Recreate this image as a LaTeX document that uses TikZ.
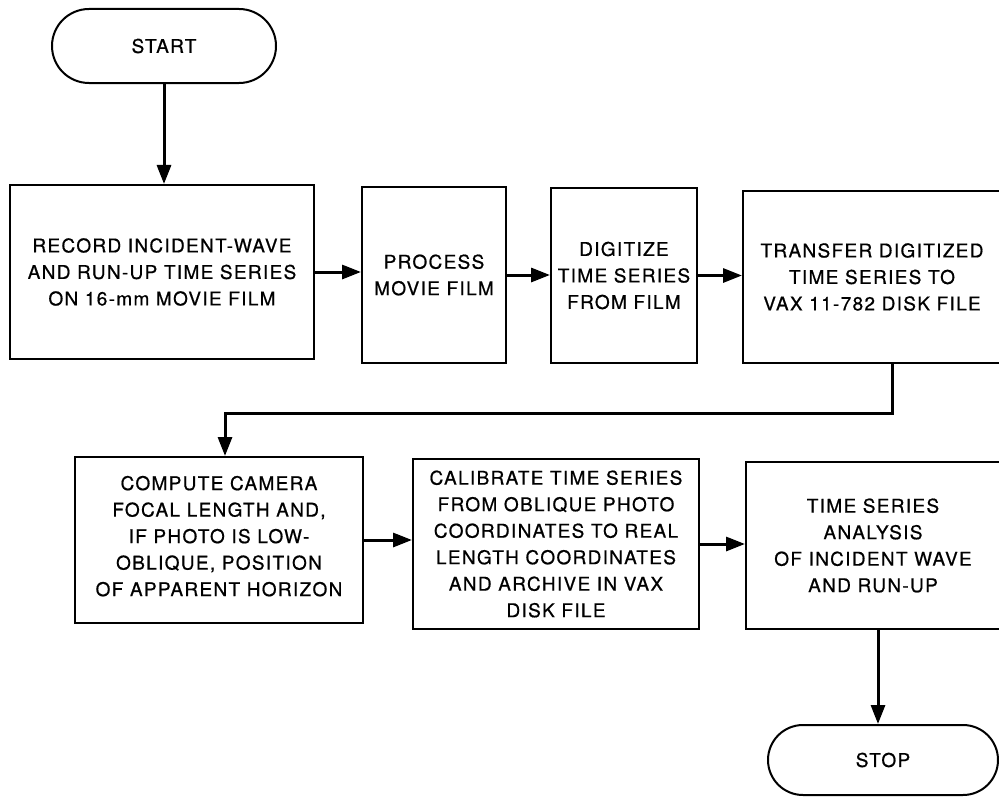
\documentclass[tikz,border=0pt]{standalone}
\usepackage{fontspec}
\setmainfont[LetterSpace=7,FakeBold=0.7]{TeX Gyre Heros}
\usetikzlibrary{arrows.meta,shapes.misc}
\begin{document}
\begin{tikzpicture}[x=1bp,y=-1bp,
  txt/.style={align=center, inner sep=0pt, font=\fontsize{19bp}{26.5bp}\selectfont},
  box/.style={txt, draw, line width=2bp, rectangle},
  term/.style={txt, draw, line width=2bp, rounded rectangle},
  arr/.style={line width=3bp, -{Triangle[length=19bp,width=14bp]}}]
\useasboundingbox[fill=white] (0,0) rectangle (999,800);

\node[term, minimum width=224bp, minimum height=74bp] (start) at (164,46) {START};
\node[box, minimum width=304bp, minimum height=174bp] (b1) at (162,272)
  {RECORD INCIDENT-WAVE\\AND RUN-UP TIME SERIES\\ON 16-mm MOVIE FILM};
\node[box, minimum width=144bp, minimum height=176bp] (b2) at (434,275)
  {PROCESS\\MOVIE FILM};
\node[box, minimum width=146bp, minimum height=175bp] (b3) at (624,275.5)
  {DIGITIZE\\TIME SERIES\\FROM FILM};
\node[box, minimum width=258bp, minimum height=172bp] (b4) at (872,277)
  {TRANSFER DIGITIZED\\TIME SERIES TO\\VAX 11-782 DISK FILE};
\node[box, minimum width=288bp, minimum height=166bp, text depth=8bp] (b5) at (219,540)
  {COMPUTE CAMERA\\FOCAL LENGTH AND,\\IF PHOTO IS LOW-\\OBLIQUE, POSITION\\OF APPARENT HORIZON};
\node[box, minimum width=286bp, minimum height=170bp] (b6) at (556,544)
  {CALIBRATE TIME SERIES\\FROM OBLIQUE PHOTO\\COORDINATES TO REAL\\LENGTH COORDINATES\\AND ARCHIVE IN VAX\\DISK FILE};
\node[box, minimum width=254bp, minimum height=167bp] (b7) at (873,545.5)
  {TIME SERIES\\ANALYSIS\\OF INCIDENT WAVE\\AND RUN-UP};
\node[term, minimum width=230bp, minimum height=70bp] (stop) at (883,760) {STOP};

\coordinate (k1) at (892,413);
\coordinate (k2) at (225,413);
\coordinate (k3) at (878,700);

\draw[arr] (start.south) -- (start.south |- b1.north);
\draw[arr] (b1.east) -- (b1.east -| b2.west);
\draw[arr] (b2.east) -- (b2.east -| b3.west);
\draw[arr] (b3.east) -- (b3.east -| b4.west);
\draw[arr] (b4.south -| k1) -- (k1) -- (k2) -- (k2 |- b5.north);
\draw[arr] (b5.east) -- (b5.east -| b6.west);
\draw[arr] (b6.east) -- (b6.east -| b7.west);
\draw[arr] (b7.south -| k3) -- (k3 |- stop.north);
\end{tikzpicture}
\end{document}
